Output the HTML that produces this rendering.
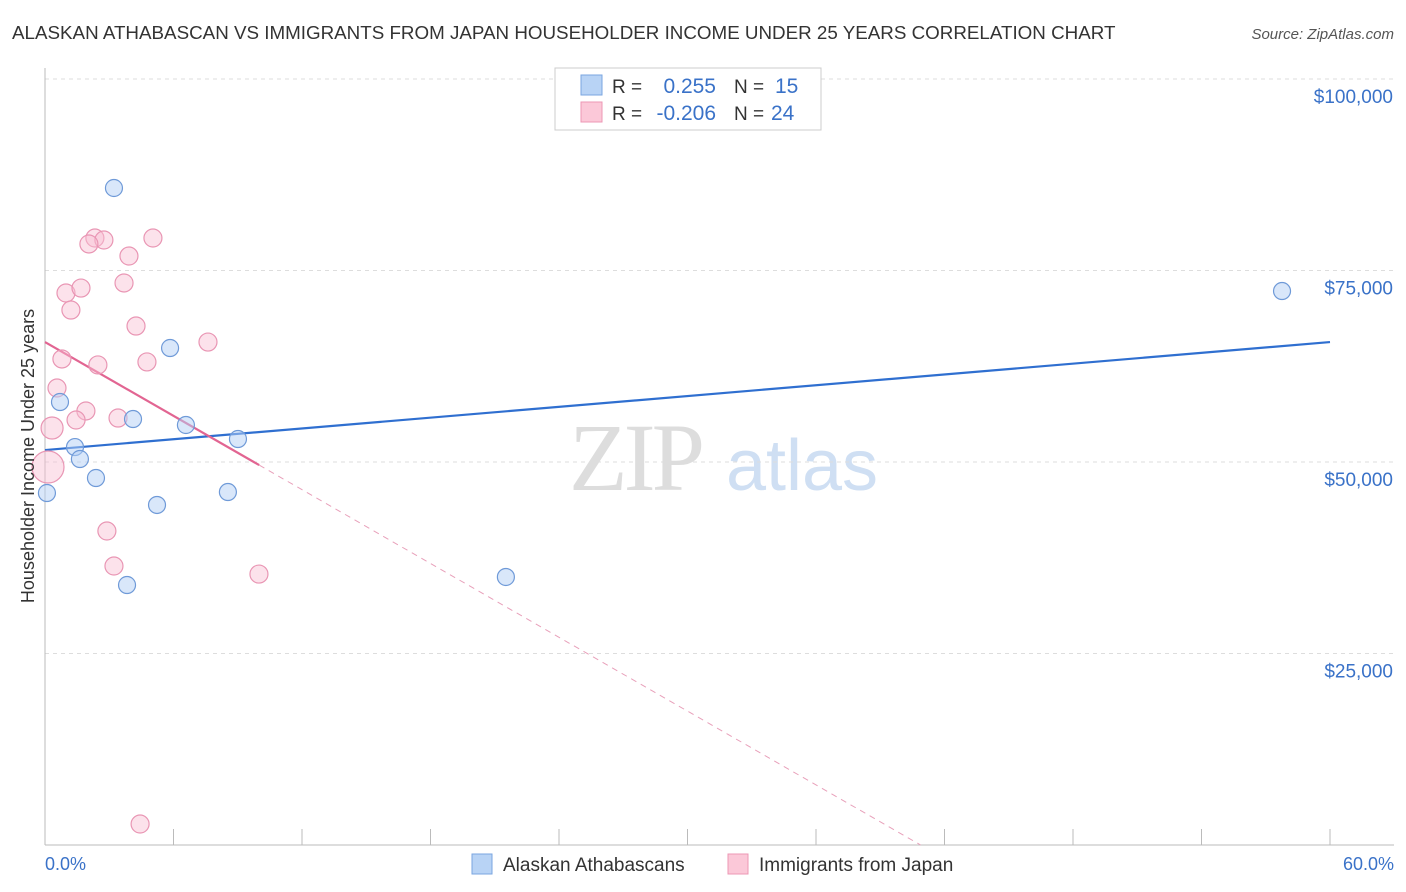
<!DOCTYPE html>
<html><head><meta charset="utf-8">
<style>
body{margin:0;background:#fff;font-family:"Liberation Sans",sans-serif;}
svg{display:block}
</style></head>
<body>
<svg id="chart" width="1406" height="892" xmlns="http://www.w3.org/2000/svg">
<text x="12" y="39" font-size="18.8" fill="#333">ALASKAN ATHABASCAN VS IMMIGRANTS FROM JAPAN HOUSEHOLDER INCOME UNDER 25 YEARS CORRELATION CHART</text>
<text x="1394" y="39" font-size="15" fill="#555" text-anchor="end" font-style="italic">Source: ZipAtlas.com</text>
<g>
<text x="635" y="490" font-size="96" fill="#ddd" font-family="Liberation Serif,serif" text-anchor="middle" letter-spacing="-4">ZIP</text>
<text x="802" y="490" font-size="72" fill="#cfdff3" text-anchor="middle">atlas</text>
</g>
<g id="grid"></g>
<g id="axes"></g>
<g id="trends"></g>
<g id="points"></g>
<text transform="translate(34,456) rotate(-90)" font-size="18" fill="#333" text-anchor="middle">Householder Income Under 25 years</text>
<text x="45" y="870" font-size="18" fill="#3a72c8">0.0%</text>
<text x="1394" y="870" font-size="18" fill="#3a72c8" text-anchor="end">60.0%</text>
<g>
<rect x="555" y="68" width="266" height="62" fill="#fff" stroke="#ccc"/>
<rect x="581" y="75" width="21" height="20" fill="#b8d3f5" stroke="#7aa6e0"/>
<rect x="581" y="102" width="21" height="20" fill="#fbc8d8" stroke="#ec97b4"/>
<text x="612" y="93" font-size="19" fill="#333">R = </text>
<text x="716" y="93" font-size="21" fill="#3a72c8" text-anchor="end">0.255</text>
<text x="734" y="93" font-size="19" fill="#333">N = </text>
<text x="775" y="93" font-size="21" fill="#3a72c8">15</text>
<text x="612" y="120" font-size="19" fill="#333">R = </text>
<text x="716" y="120" font-size="21" fill="#3a72c8" text-anchor="end">-0.206</text>
<text x="734" y="120" font-size="19" fill="#333">N = </text>
<text x="771" y="120" font-size="21" fill="#3a72c8">24</text>
</g>
<g>
<rect x="472" y="854" width="20" height="20" fill="#b8d3f5" stroke="#7aa6e0"/>
<text x="503" y="871" font-size="19" fill="#333">Alaskan Athabascans</text>
<rect x="728" y="854" width="20" height="20" fill="#fbc8d8" stroke="#ec97b4"/>
<text x="759" y="871" font-size="19" fill="#333">Immigrants from Japan</text>
</g>
</svg>
<script>
const yTicks=[25000,50000,75000,100000];
const yTickLabels=["$25,000","$50,000","$75,000","$100,000"];
const blueX=[3.22,0.70,1.40,1.63,2.38,0.09,4.11,5.84,6.58,9.01,5.23,8.54,3.83,21.52,57.76];
const blueY=[85770,57830,51950,50390,47910,45950,55610,64880,54830,53000,44390,46080,33940,34990,72320];
const pinkX=[2.33,2.75,5.04,2.05,3.92,0.98,1.68,3.69,1.21,4.25,7.61,0.79,4.76,2.47,0.56,1.91,1.45,3.41,0.33,0.14,2.89,3.22,9.99,4.44];
const pinkY=[79240,78980,79240,78460,76890,72060,72710,73370,69840,67750,65660,63450,63060,62670,59660,56660,55480,55740,54440,49350,40990,36420,35370,2740];
const pinkSize=[9,9,9,9,9,9,9,9,9,9,9,9,9,9,9,9,9,9,11,16,9,9,9,9];
const blueTrend=[51560,65660];
const pinkTrend=[65660,-1606];
const pinkSolidEnd=10;
const NS="http://www.w3.org/2000/svg";
const X0=45,X1=1330,Y0=845,PX=191.5/25000;
const sx=v=>X0+(v/60)*(X1-X0);
const sy=v=>Y0-v*PX;
function mk(tag,attrs,parent){const e=document.createElementNS(NS,tag);for(const k in attrs)e.setAttribute(k,attrs[k]);document.getElementById(parent).appendChild(e);return e;}
yTicks.forEach((t,i)=>{
 const l=mk('line',{x1:X0,x2:1394,y1:sy(t),y2:sy(t),stroke:'#ddd','stroke-dasharray':'4,4'},'grid');
 
 
 const tx=mk('text',{x:1393,y:sy(t)+24,'font-size':19,fill:'#3a72c8','text-anchor':'end'},'grid');
 tx.textContent=yTickLabels[i];
 
 
});
const topGrid=mk('line',{x1:X0,x2:1394,y1:79,y2:79,stroke:'#ddd','stroke-dasharray':'4,4'},'grid');


const ya=mk('line',{x1:X0,x2:X0,y1:68,y2:Y0,stroke:'#bbb'},'axes');


const xa=mk('line',{x1:X0,x2:1394,y1:Y0,y2:Y0,stroke:'#bbb'},'axes');


for(let i=0;i<=10;i++){
 const t=mk('line',{x1:sx(i*6),x2:sx(i*6),y1:829,y2:Y0,stroke:'#bbb'},'axes');
 
 
}
const bt=mk('line',{x1:sx(0),y1:sy(blueTrend[0]),x2:sx(60),y2:sy(blueTrend[1]),stroke:'#2f6fd0','stroke-width':2.2},'trends');


const pe=pinkTrend[0]+pinkTrend[1]*pinkSolidEnd;
const pt=mk('line',{x1:sx(0),y1:sy(pinkTrend[0]),x2:sx(pinkSolidEnd),y2:sy(pe),stroke:'#e26592','stroke-width':2.2},'trends');


const zx=-pinkTrend[0]/pinkTrend[1];
const pd=mk('line',{x1:sx(pinkSolidEnd),y1:sy(pe),x2:sx(zx),y2:sy(0),stroke:'#e8a0ba','stroke-width':1,'stroke-dasharray':'6,5'},'trends');


pinkX.forEach((v,i)=>{
 const c=mk('circle',{cx:sx(v),cy:sy(pinkY[i]),r:pinkSize[i],fill:'rgba(248,190,210,0.45)',stroke:'#e996b4','stroke-width':1.2},'points');
 
 
});
blueX.forEach((v,i)=>{
 const c=mk('circle',{cx:sx(v),cy:sy(blueY[i]),r:8.5,fill:'rgba(180,208,245,0.5)',stroke:'#6f9ad8','stroke-width':1.2},'points');
 
 
});
</script>
</body></html>
